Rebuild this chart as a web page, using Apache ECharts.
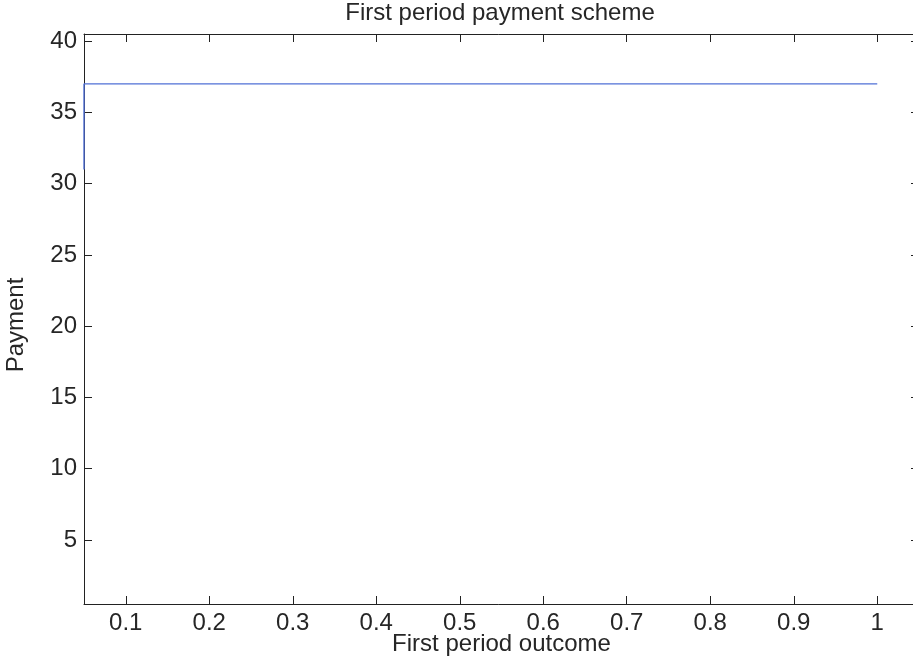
<!DOCTYPE html>
<html>
<head>
<meta charset="utf-8">
<script src="https://cdn.jsdelivr.net/npm/echarts@6/dist/echarts.min.js"></script>
<style>html,body{margin:0;padding:0;background:#fff;}#c{width:913px;height:665px;}</style>
</head>
<body>
<div id="c"></div>
<script>
var xTicks = [0.1, 0.2, 0.3, 0.4, 0.5, 0.6, 0.7, 0.8, 0.9, 1];
var yTicks = [5, 10, 15, 20, 25, 30, 35, 40];
var outcome = [0.05, 0.05, 1];
var payment = [31, 37, 37];
var titleText = 'First period payment scheme';
var xName = 'First period outcome';
var yName = 'Payment';

var FONT = 'Liberation Sans, Arial, Helvetica, sans-serif';
var TXT = '#262626';
var AX = '#222';
var FS = 24;
var data = outcome.map(function (x, i) { return [x, payment[i]]; });

function fmt(v) { return String(Math.round(v * 100) / 100); }

var chart = echarts.init(document.getElementById('c'), null, {renderer: 'canvas'});
var xBase = {
  type: 'value', min: 0.05, max: 1.05, gridIndex: 0,
  splitLine: {show: false},
  axisLine: {show: true, onZero: false, lineStyle: {color: AX, width: 1}},
  axisTick: {show: true, inside: true, length: 8, customValues: xTicks, lineStyle: {color: AX}},
  axisLabel: {show: true, customValues: xTicks, formatter: fmt, fontFamily: FONT, fontSize: FS, color: TXT, margin: 7},
  minorTick: {show: false}
};
var yBase = {
  type: 'value', min: 0.5, max: 40.5,
  splitLine: {show: false},
  axisLine: {show: true, onZero: false, lineStyle: {color: AX, width: 1}},
  axisTick: {show: true, inside: true, length: 8, customValues: yTicks, lineStyle: {color: AX}},
  axisLabel: {show: true, customValues: yTicks, formatter: fmt, fontFamily: FONT, fontSize: FS, color: TXT, margin: 7}
};
var option = {
  animation: false,
  backgroundColor: '#fff',
  title: {
    text: titleText, left: 500, top: 1, textAlign: 'center', padding: 0,
    textStyle: {fontFamily: FONT, fontSize: FS, fontWeight: 'normal', color: TXT}
  },
  grid: {left: 84, top: 34, width: 835, height: 570, containLabel: false, outerBoundsMode: 'none'},
  xAxis: [
    Object.assign({}, xBase, {position: 'bottom', name: xName, nameLocation: 'middle', nameGap: 28,
      nameMoveOverlap: false,
      nameTextStyle: {fontFamily: FONT, fontSize: FS, color: TXT}}),
    Object.assign({}, xBase, {position: 'top', axisLabel: {show: false}})
  ],
  yAxis: [
    Object.assign({}, yBase, {position: 'left', name: yName, nameLocation: 'middle', nameGap: 56,
      nameMoveOverlap: false,
      nameTextStyle: {fontFamily: FONT, fontSize: FS, color: TXT, padding: [0, 12, 0, 0]}}),
    Object.assign({}, yBase, {position: 'right', axisLabel: {show: false}})
  ],
  series: [{
    type: 'line', data: data, xAxisIndex: 0, yAxisIndex: 0,
    showSymbol: false, symbol: 'none', clip: false, z: 5,
    lineStyle: {color: '#5070d6', width: 1.4}
  }]
};
chart.setOption(option);
</script>
</body>
</html>
